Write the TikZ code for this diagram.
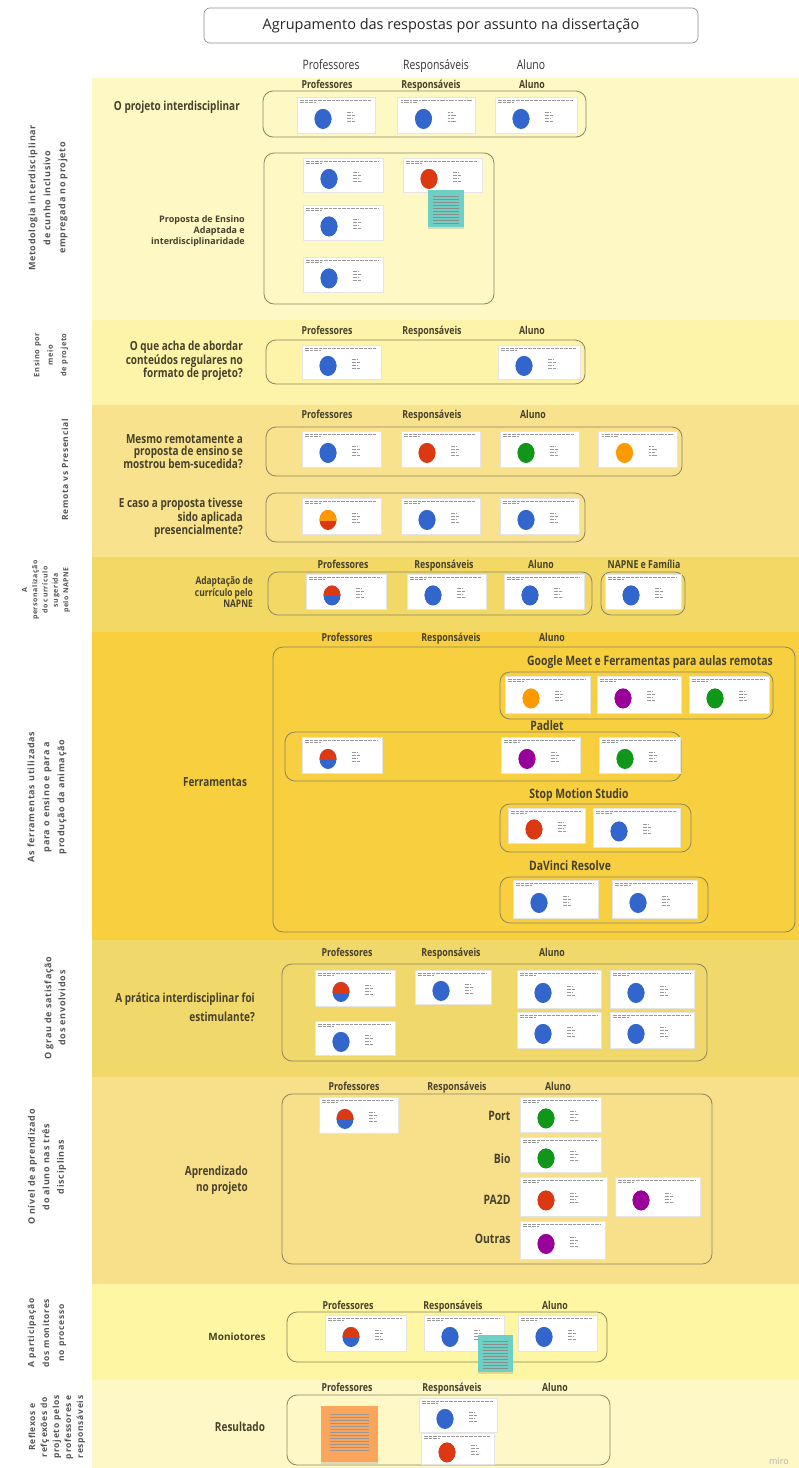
\documentclass[tikz,border=0pt]{standalone}
\usepackage{fontspec}
\setmainfont{Open Sans}
\newfontfamily\condfont[FakeStretch=0.8]{Open Sans}
\newfontfamily\sidefont[LetterSpace=8]{Open Sans}
\usetikzlibrary{shadows}

\definecolor{bandA}{HTML}{FEF8C4}
\definecolor{bandB}{HTML}{FEF4A9}
\definecolor{bandC}{HTML}{F9E28E}
\definecolor{bandD}{HTML}{F2D966}
\definecolor{bandE}{HTML}{F8CF3E}
\definecolor{bandF}{HTML}{F1D86B}
\definecolor{bandG}{HTML}{F8E08A}
\definecolor{bandH}{HTML}{FEF6A2}
\definecolor{bandI}{HTML}{FEF8C6}
\definecolor{txtc}{HTML}{46412A}
\definecolor{sidec}{HTML}{555555}
\definecolor{framec}{HTML}{8C8462}
\definecolor{gblue}{HTML}{3366CC}
\definecolor{gred}{HTML}{DC3912}
\definecolor{gorange}{HTML}{FF9900}
\definecolor{ggreen}{HTML}{109618}
\definecolor{gpurple}{HTML}{990099}
\definecolor{teal}{HTML}{6ECFC4}
\definecolor{peach}{HTML}{FBA45B}

\tikzset{
  piecol/.store in=\piecol,
  pietop/.store in=\pietop,
  chart/.style={piecol=#1, pietop=#1},
  cardtext/.style={draw=black!40, line width=0.8pt, dash pattern=on 2.5pt off 0.6pt on 1.2pt off 0.6pt on 3.5pt off 0.6pt},
  card/.style={draw=black!10, fill=white, inner sep=0pt, minimum width=78pt, minimum height=36pt, chart=gblue,
    path picture={
      \coordinate (pc) at ([xshift=26pt,yshift=-4pt]path picture bounding box.west);
      \fill[\piecol] (pc) ellipse [x radius=8.5pt, y radius=10pt];
      \begin{scope}
        \clip ([xshift=-12pt]pc) rectangle ([xshift=12pt,yshift=12pt]pc);
        \fill[\pietop] (pc) ellipse [x radius=8.5pt, y radius=10pt];
      \end{scope}
      \draw[cardtext] ([xshift=3pt,yshift=-3pt]path picture bounding box.north west) -- ([xshift=-4pt,yshift=-3pt]path picture bounding box.north east);
      \draw[cardtext] ([xshift=3pt,yshift=-5.5pt]path picture bounding box.north west) -- ++(16pt,0pt);
      \draw[cardtext] ([xshift=24pt,yshift=7pt]pc) -- ++(5pt,0pt);
      \draw[cardtext] ([xshift=24pt,yshift=4pt]pc) -- ++(8pt,0pt);
      \draw[cardtext] ([xshift=24pt,yshift=1pt]pc) -- ++(6pt,0pt);
      \draw[cardtext] ([xshift=24pt,yshift=-2pt]pc) -- ++(9pt,0pt);
    }},
  sticky/.style={inner sep=0pt, drop shadow={opacity=0.25, shadow xshift=0pt, shadow yshift=-2pt},
    path picture={
      \foreach \dy in {6,9,...,33}
        \draw[black!45, line width=0.5pt] ([xshift=5pt,yshift=-\dy pt]path picture bounding box.north west) -- ([xshift=-5pt,yshift=-\dy pt]path picture bounding box.north east);
    }},
  bignote/.style={inner sep=0pt, drop shadow={opacity=0.25, shadow xshift=0pt, shadow yshift=-2pt},
    path picture={
      \foreach \dy in {8,11,...,44}
        \draw[black!40, line width=0.5pt] ([xshift=9pt,yshift=-\dy pt]path picture bounding box.north west) -- ([xshift=-9pt,yshift=-\dy pt]path picture bounding box.north east);
    }},
  frame/.style={draw=framec, line width=0.8pt, rounded corners=10pt},
  titlebox/.style={draw=black!45, fill=white, line width=0.6pt, rounded corners=6pt, minimum width=494pt, minimum height=35pt, font=\fontsize{14.5}{16}\selectfont, text=black!85},
  tophead/.style={font=\condfont\fontsize{13}{15}\selectfont, text=black!80, text height=9pt, text depth=2pt},
  subhead/.style={font=\condfont\bfseries\fontsize{11}{13}\selectfont, text=txtc, text height=7.5pt, text depth=2pt},
  question/.style={font=\condfont\bfseries\fontsize{12.5}{12}\selectfont, text=txtc, align=right, anchor=east, inner sep=0pt},
  toolname/.style={font=\condfont\bfseries\fontsize{13}{15}\selectfont, text=txtc},
  side/.style={rotate=90, align=center, font=\sidefont\bfseries\fontsize{9}{14}\selectfont, text=sidec}
}

\begin{document}
\begin{tikzpicture}[x=1pt, y=-1pt]
    \useasboundingbox (0,0) rectangle (799,1468);

    % bands
    \fill[bandA] (92,78) rectangle (799,320);
    \fill[bandB] (92,320) rectangle (799,405);
    \fill[bandC] (92,405) rectangle (799,557);
    \fill[bandD] (92,557) rectangle (799,632);
    \fill[bandE] (92,632) rectangle (799,940);
    \fill[bandF] (92,940) rectangle (799,1077);
    \fill[bandG] (92,1077) rectangle (799,1284);
    \fill[bandH] (92,1284) rectangle (799,1380);
    \fill[bandI] (92,1380) rectangle (799,1468);

    \node[titlebox] (title) at (451,25.5) {Agrupamento das respostas por assunto na dissertação};
    \node[tophead] (hprof) at (331,66) {Professores};
    \node[tophead] (hresp) at (436,66) {Responsáveis};
    \node[tophead] (halun) at (531,66) {Aluno};

    % Metodologia
    \node[side, font=\sidefont\bfseries\fontsize{9}{15}\selectfont] (smet) at (48,198) {Metodologia interdisciplinar\\de cunho inclusivo\\empregada no projeto};
    \node[subhead] (met-prof) at (327,86) {Professores};
    \node[subhead] (met-resp) at (431,86) {Responsáveis};
    \node[subhead] (met-alun) at (532,86) {Aluno};
    \node[question] (qproj) at (240,107) {O projeto interdisciplinar};
    \draw[frame] (263,91) rectangle (586,137);
    \node[card] (proj1) at (336,115) {};
    \node[card] (proj2) at (436.5,115) {};
    \node[card, minimum width=82pt] (proj3) at (536,115) {};
    \node[question, font=\bfseries\fontsize{9}{11}\selectfont] (qprop) at (245,231) {Proposta de Ensino\\Adaptada e\\interdisciplinaridade};
    \draw[frame] (264,153) rectangle (494,304);
    \node[card, minimum width=80pt, minimum height=34pt] (prop1) at (343,175) {};
    \node[card, minimum width=80pt, minimum height=35pt] (prop2) at (343,222.5) {};
    \node[card, minimum width=80pt, minimum height=35pt] (prop3) at (343,274.5) {};
    \node[card, minimum width=79pt, minimum height=34pt, chart=gred] (prop4) at (442.5,175) {};
    \node[sticky, fill=teal, minimum width=36pt, minimum height=37pt] (propnote) at (446,208.5) {};

    % Ensino por meio de projeto
    \node[side, font=\sidefont\bfseries\fontsize{7.5}{13.5}\selectfont] (sens) at (51,355) {Ensino por\\meio\\de projeto};
    \node[subhead] (ens-prof) at (327,332) {Professores};
    \node[subhead] (ens-resp) at (432,332) {Responsáveis};
    \node[subhead] (ens-alun) at (532,332) {Aluno};
    \node[question] (qens) at (243,361) {O que acha de abordar\\conteúdos regulares no\\formato de projeto?};
    \draw[frame] (266,340) rectangle (585,384);
    \node[card, minimum width=79pt, minimum height=34pt] (ens1) at (341.5,362) {};
    \node[card, minimum width=82pt, minimum height=34pt] (ens2) at (539,362) {};

    % Remota vs Presencial
    \node[side, font=\sidefont\bfseries\fontsize{8.5}{14}\selectfont] (srem) at (65,470) {Remota vs Presencial};
    \node[subhead] (rem-prof) at (327,416) {Professores};
    \node[subhead] (rem-resp) at (432,416) {Responsáveis};
    \node[subhead] (rem-alun) at (533,416) {Aluno};
    \node[question, font=\condfont\bfseries\fontsize{12.5}{11.5}\selectfont] (qrem) at (243,452) {Mesmo remotamente a\\proposta de ensino se\\mostrou bem-sucedida?};
    \draw[frame] (266,427) rectangle (682,476);
    \node[card, minimum width=79pt] (rem1) at (341.5,449) {};
    \node[card, minimum width=79pt, chart=gred] (rem2) at (440.5,449) {};
    \node[card, minimum width=79pt, chart=ggreen] (rem3) at (539.5,449) {};
    \node[card, minimum width=79pt, chart=gorange] (rem4) at (638,449) {};
    \node[question, font=\condfont\bfseries\fontsize{12.5}{11.5}\selectfont] (qpres) at (243,518) {E caso a proposta tivesse\\sido aplicada\\presencialmente?};
    \draw[frame] (266,493) rectangle (585,542);
    \node[card, minimum width=79pt, piecol=gred, pietop=gorange] (pres1) at (341.5,516) {};
    \node[card, minimum width=79pt] (pres2) at (440.5,516) {};
    \node[card, minimum width=79pt] (pres3) at (539.5,516) {};

    % personalizacao
    \node[side, font=\sidefont\bfseries\fontsize{7}{10.3}\selectfont] (snap) at (46,590) {A\\personalização\\do currículo\\sugerida\\pelo NAPNE};
    \node[subhead] (nap-prof) at (343,566) {Professores};
    \node[subhead] (nap-resp) at (444,566) {Responsáveis};
    \node[subhead] (nap-alun) at (541,566) {Aluno};
    \node[subhead] (nap-fam) at (644,566) {NAPNE e Família};
    \node[question, font=\condfont\bfseries\fontsize{10.5}{10}\selectfont] (qnap) at (253,592) {Adaptação de\\currículo pelo\\NAPNE};
    \draw[frame] (268,572) rectangle (592,615);
    \draw[frame] (601,572) rectangle (685,615);
    \node[card, minimum width=80pt, minimum height=35pt, piecol=gblue, pietop=gred] (nap1) at (346,591.5) {};
    \node[card, minimum width=79pt, minimum height=35pt] (nap2) at (446.5,591.5) {};
    \node[card, minimum width=80pt, minimum height=35pt] (nap3) at (544,591.5) {};
    \node[card, minimum width=76pt, minimum height=35pt] (nap4) at (643,591.5) {};

    % Ferramentas
    \node[side, font=\sidefont\bfseries\fontsize{9}{15}\selectfont] (sfer) at (47,797) {As ferramentas utilizadas\\para o ensino e para a\\produção da animação};
    \node[subhead] (fer-prof) at (347,639) {Professores};
    \node[subhead] (fer-resp) at (451,639) {Responsáveis};
    \node[subhead] (fer-alun) at (552,639) {Aluno};
    \draw[frame] (273,647) rectangle (795,932);
    \node[question, anchor=center] (qfer) at (215,782) {Ferramentas};
    \node[toolname] (tmeet) at (650,662) {Google Meet e Ferramentas para aulas remotas};
    \draw[frame] (500,672) rectangle (773,719);
    \node[card, minimum width=85pt, minimum height=37pt, chart=gorange] (meet1) at (547.5,694.5) {};
    \node[card, minimum width=84pt, minimum height=37pt, chart=gpurple] (meet2) at (639,694.5) {};
    \node[card, minimum width=80pt, minimum height=37pt, chart=ggreen] (meet3) at (729,694.5) {};
    \node[toolname] (tpad) at (547,726) {Padlet};
    \draw[frame] (285,732) rectangle (681,781);
    \node[card, minimum width=80pt, piecol=gblue, pietop=gred] (pad1) at (342,755) {};
    \node[card, minimum width=79pt, chart=gpurple] (pad2) at (540.5,755) {};
    \node[card, minimum width=81pt, chart=ggreen] (pad3) at (639.5,755) {};
    \node[toolname] (tsms) at (579,795) {Stop Motion Studio};
    \draw[frame] (500,804) rectangle (691,852);
    \node[card, minimum width=77pt, minimum height=35pt, chart=gred] (sms1) at (546.5,825.5) {};
    \node[card, minimum width=87pt, minimum height=39pt] (sms2) at (636.5,827.5) {};
    \node[toolname] (tdvr) at (570,866) {DaVinci Resolve};
    \draw[frame] (500,877) rectangle (708,923);
    \node[card, minimum width=85pt, minimum height=38pt] (dvr1) at (555.5,899) {};
    \node[card, minimum width=85pt, minimum height=38pt] (dvr2) at (654.5,899) {};

    % grau de satisfacao
    \node[side, font=\sidefont\bfseries\fontsize{9}{14}\selectfont] (ssat) at (55,1008) {O grau de satisfação\\dos envolvidos};
    \node[subhead] (sat-prof) at (347,954) {Professores};
    \node[subhead] (sat-resp) at (451,954) {Responsáveis};
    \node[subhead] (sat-alun) at (552,954) {Aluno};
    \node[question, font=\condfont\bfseries\fontsize{12.5}{19}\selectfont] (qsat) at (255,1007) {A prática interdisciplinar foi\\estimulante?};
    \draw[frame] (282,964) rectangle (707,1061);
    \node[card, minimum width=80pt, piecol=gblue, pietop=gred] (sat1) at (355,988) {};
    \node[card, minimum width=76pt, minimum height=34pt] (sat2) at (453,987) {};
    \node[card, minimum width=84pt, minimum height=38pt] (sat3) at (559,989) {};
    \node[card, minimum width=84pt, minimum height=38pt] (sat4) at (652,989) {};
    \node[card, minimum width=80pt, minimum height=34pt] (sat5) at (355,1038) {};
    \node[card, minimum width=84pt] (sat6) at (559,1030) {};
    \node[card, minimum width=84pt] (sat7) at (652,1030) {};

    % nivel de aprendizado
    \node[side, font=\sidefont\bfseries\fontsize{9}{14.5}\selectfont] (sapr) at (47,1167) {O nível de aprendizado\\do aluno nas três\\disciplinas};
    \node[subhead] (apr-prof) at (354,1088) {Professores};
    \node[subhead] (apr-resp) at (457,1088) {Responsáveis};
    \node[subhead] (apr-alun) at (558,1088) {Aluno};
    \node[question, font=\condfont\bfseries\fontsize{12.5}{16}\selectfont] (qapr) at (248,1180) {Aprendizado\\no projeto};
    \draw[frame] (282,1094) rectangle (712,1264);
    \node[card, minimum width=79pt, piecol=gblue, pietop=gred] (apr1) at (358.5,1115) {};
    \node[toolname, anchor=east] (lport) at (514,1116) {Port};
    \node[card, minimum width=81pt, minimum height=35pt, chart=ggreen] (port) at (560.5,1114.5) {};
    \node[toolname, anchor=east] (lbio) at (514,1159) {Bio};
    \node[card, minimum width=81pt, minimum height=35pt, chart=ggreen] (bio) at (560.5,1154.5) {};
    \node[toolname, anchor=east] (lpa) at (514,1200) {PA2D};
    \node[card, minimum width=87pt, minimum height=39pt, chart=gred] (pa1) at (563.5,1196.5) {};
    \node[card, minimum width=85pt, minimum height=39pt, chart=gpurple] (pa2) at (657.5,1196.5) {};
    \node[toolname, anchor=east] (lout) at (514,1239) {Outras};
    \node[card, minimum width=85pt, minimum height=38pt, chart=gpurple] (outr) at (562.5,1240) {};

    % monitores
    \node[side, font=\sidefont\bfseries\fontsize{8.5}{15}\selectfont] (smon) at (47,1333) {A participação\\dos monitores\\no processo};
    \node[subhead] (mon-prof) at (348,1307) {Professores};
    \node[subhead] (mon-resp) at (453,1307) {Responsáveis};
    \node[subhead] (mon-alun) at (555,1307) {Aluno};
    \node[question, anchor=center, font=\bfseries\fontsize{10}{12}\selectfont] (qmon) at (237,1337) {Moniotores};
    \draw[frame] (287,1312) rectangle (607,1362);
    \node[card, minimum width=81pt, piecol=gblue, pietop=gred] (mon1) at (365.5,1333) {};
    \node[card, minimum width=80pt] (mon2) at (464,1333) {};
    \node[card, minimum width=79pt] (mon3) at (557.5,1333) {};
    \node[sticky, fill=teal, minimum width=35pt, minimum height=37pt] (monnote) at (495.5,1353.5) {};

    % resultado
    \node[side, font=\sidefont\bfseries\fontsize{8.5}{12}\selectfont] (sres) at (57,1427) {Reflexos e\\refçexões do\\projeto pelos\\professores e\\responsáveis};
    \node[subhead] (res-prof) at (347,1389) {Professores};
    \node[subhead] (res-resp) at (452,1389) {Responsáveis};
    \node[subhead] (res-alun) at (555,1389) {Aluno};
    \node[question, anchor=center] (qres) at (240,1427) {Resultado};
    \draw[frame] (287,1395) rectangle (610,1465);
    \node[bignote, fill=peach, minimum width=57pt, minimum height=56pt] (resnote) at (349.5,1434) {};
    \node[card, minimum width=78pt, minimum height=34pt] (res1) at (458,1415) {};
    \node[card, minimum width=73pt, minimum height=31pt, chart=gred] (res2) at (457.5,1448.5) {};

    \node[font=\fontsize{9}{11}\selectfont, text=black!30] (miro) at (779,1461) {miro};
\end{tikzpicture}
\end{document}
